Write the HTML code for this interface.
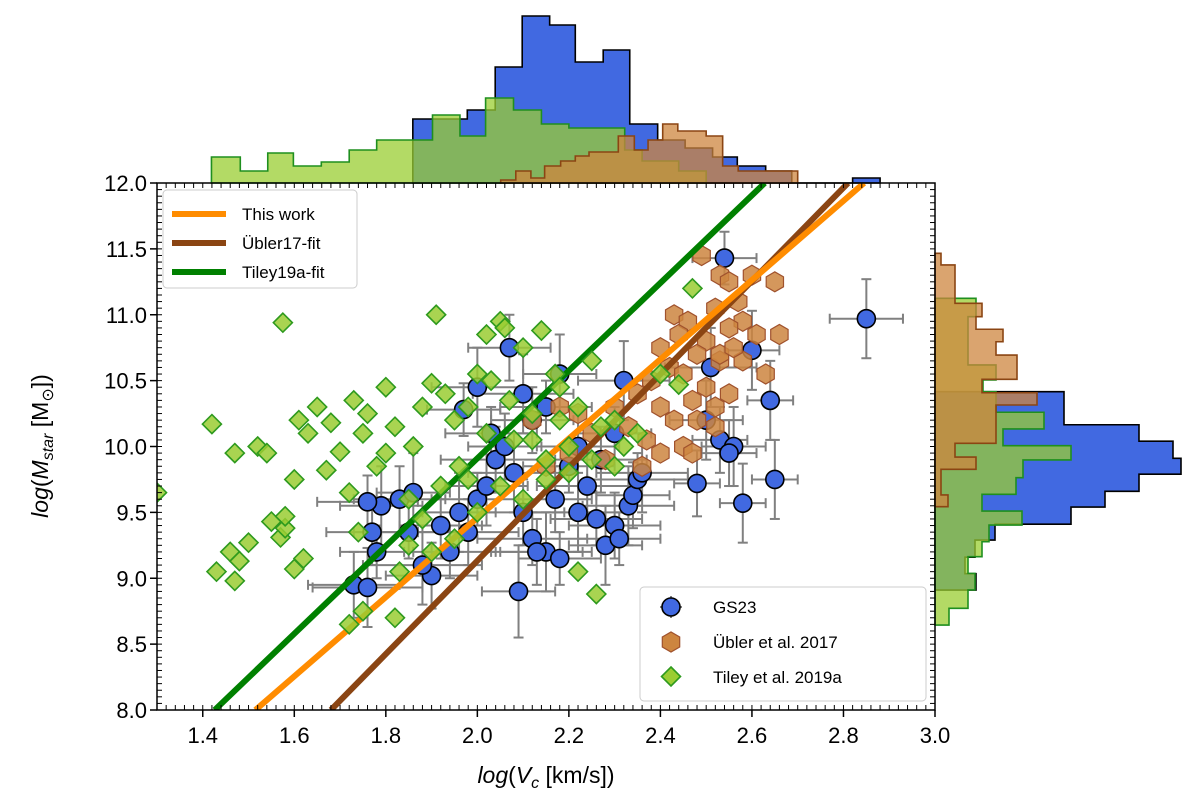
<!DOCTYPE html>
<html><head><meta charset="utf-8"><style>
html,body{margin:0;padding:0;background:#fff;}
svg{display:block;font-family:"Liberation Sans","DejaVu Sans",sans-serif;}
</style></head><body>
<svg id="chart" width="1200" height="800" viewBox="0 0 1200 800" xmlns="http://www.w3.org/2000/svg">
<defs><clipPath id="plotclip"><rect x="157" y="183" width="778" height="527"/></clipPath></defs>
<rect width="1200" height="800" fill="#fff"/>
<g id="tophist"></g>
<g id="righthist"></g>
<g id="plot" clip-path="url(#plotclip)"></g>
<g id="axes"></g>
<g id="legends"></g>
</svg>
<script>
// ---- data ----
const xTicks = [1.4,1.6,1.8,2.0,2.2,2.4,2.6,2.8,3.0];
const xTickLabels = ["1.4","1.6","1.8","2.0","2.2","2.4","2.6","2.8","3.0"];
const yTicks = [8.0,8.5,9.0,9.5,10.0,10.5,11.0,11.5,12.0];
const yTickLabels = ["8.0","8.5","9.0","9.5","10.0","10.5","11.0","11.5","12.0"];

const blueX = [1.73,1.76,1.78,1.77,1.79,1.76,1.83,1.86,1.85,1.90,1.88,1.92,1.94,1.96,1.98,2.00,2.02,2.04,1.97,2.00,2.07,2.10,2.03,2.06,2.08,2.10,2.12,2.15,2.17,2.20,2.22,2.24,2.26,2.28,2.30,2.31,2.33,2.34,2.35,2.36,2.09,2.13,2.18,2.22,2.27,2.30,2.32,2.12,2.15,2.18,2.48,2.50,2.53,2.56,2.58,2.60,2.64,2.65,2.85,2.54,2.51,2.55];
const blueY = [8.95,8.93,9.2,9.35,9.55,9.58,9.6,9.65,9.35,9.02,9.1,9.4,9.2,9.5,9.35,9.6,9.7,9.9,10.28,10.45,10.75,10.4,10.1,10.0,9.8,9.5,9.3,9.2,9.6,9.85,10.0,9.7,9.45,9.25,9.4,9.3,9.55,9.63,9.75,9.8,8.9,9.2,9.15,9.5,9.9,10.1,10.5,10.2,10.3,10.55,9.72,10.2,10.05,10.0,9.57,10.73,10.35,9.75,10.97,11.43,10.6,9.95];
const blueXErr = [0.1,0.12,0.08,0.1,0.09,0.11,0.1,0.08,0.12,0.1,0.13,0.09,0.1,0.08,0.11,0.1,0.09,0.12,0.08,0.1,0.09,0.11,0.1,0.08,0.1,0.09,0.12,0.1,0.08,0.1,0.09,0.11,0.1,0.08,0.1,0.09,0.1,0.08,0.11,0.1,0.08,0.1,0.09,0.11,0.1,0.08,0.1,0.09,0.1,0.08,0.05,0.08,0.06,0.07,0.05,0.06,0.05,0.05,0.08,0.07,0.1,0.06];
const blueYErr = [0.25,0.3,0.2,0.25,0.3,0.2,0.25,0.3,0.2,0.25,0.3,0.25,0.2,0.3,0.25,0.2,0.3,0.25,0.2,0.3,0.25,0.3,0.2,0.25,0.3,0.25,0.2,0.3,0.25,0.2,0.3,0.25,0.2,0.3,0.25,0.2,0.3,0.25,0.2,0.3,0.35,0.25,0.2,0.3,0.25,0.2,0.3,0.25,0.2,0.3,0.25,0.3,0.25,0.3,0.3,0.3,0.3,0.3,0.3,0.2,0.3,0.25];

const brownX = [2.49,2.53,2.55,2.57,2.43,2.46,2.52,2.58,2.60,2.65,2.66,2.61,2.55,2.50,2.48,2.44,2.40,2.42,2.45,2.50,2.47,2.52,2.55,2.58,2.53,2.38,2.35,2.40,2.43,2.48,2.52,2.30,2.33,2.37,2.45,2.40,2.47,2.36,2.25,2.20,2.28,2.22,2.53,2.56,2.63,2.18,2.12,2.15];
const brownY = [11.45,11.3,11.25,11.1,11.0,10.95,11.05,10.95,11.3,11.25,10.85,10.85,10.9,10.8,10.7,10.85,10.75,10.6,10.55,10.45,10.35,10.3,10.4,10.65,10.65,10.5,10.4,10.3,10.2,10.2,10.15,10.3,10.15,10.05,10.0,9.95,9.95,9.85,10.1,9.95,9.9,10.25,10.7,10.75,10.55,10.3,10.2,9.85];

const greenX = [1.30,1.42,1.575,1.43,1.46,1.47,1.48,1.47,1.50,1.52,1.54,1.55,1.57,1.58,1.58,1.60,1.61,1.63,1.65,1.62,1.60,1.67,1.68,1.70,1.73,1.72,1.75,1.74,1.76,1.78,1.80,1.80,1.82,1.83,1.85,1.86,1.88,1.90,1.91,1.93,1.95,1.96,1.98,2.00,2.02,2.03,2.05,2.06,2.07,2.08,2.10,2.12,2.14,2.15,2.17,2.18,2.20,2.22,2.25,2.27,2.30,2.32,2.35,2.40,2.44,2.47,2.22,2.26,1.75,1.72,1.82,1.90,1.95,2.00,2.05,2.10,2.15,2.20,2.25,2.30,1.98,2.02,1.88,1.92,1.85,2.12,2.18];
const greenY = [9.65,10.17,10.94,9.05,9.2,8.98,9.13,9.95,9.27,10.0,9.95,9.43,9.31,9.38,9.47,9.75,10.2,10.1,10.3,9.15,9.07,9.82,10.18,9.96,10.35,9.65,10.1,9.35,10.25,9.85,10.45,9.95,10.15,9.05,9.6,10.0,10.3,10.48,11.0,10.4,10.2,9.85,10.3,10.55,10.85,10.5,10.95,10.9,10.35,10.05,10.75,10.25,10.88,9.9,10.55,10.45,10.0,10.3,10.65,10.15,10.2,10.0,10.1,10.55,10.47,11.2,9.05,8.88,8.75,8.65,8.7,9.2,9.3,9.5,9.7,9.6,9.75,9.8,9.9,9.85,9.75,10.1,9.45,9.7,9.25,10.05,10.2];

const fitThisWork = [[1.515,8.0],[2.845,12.0]];
const fitUbler = [[1.68,8.0],[2.81,12.0]];
const fitTiley = [[1.426,8.0],[2.628,12.0]];

// top histograms (x bin edges, heights)
const topBlueEdges = [1.859,1.919,1.978,2.039,2.098,2.158,2.214,2.275,2.333,2.394,2.454,2.514,2.568,2.63,2.687,2.75,2.82,2.88];
const topBlueCounts = [64,64,73,116,167,158,121,133,59,43,35,26,17,12,0,0,5];
const topGreenEdges = [1.419,1.482,1.542,1.598,1.659,1.72,1.78,1.82,1.859,1.902,1.962,2.018,2.079,2.14,2.2,2.322,2.36,2.44,2.50];
const topGreenCounts = [26,12,30,17,21,33,43,43,43,68,47,85,73,59,55,33,22,12];
const topBrownEdges = [2.051,2.084,2.117,2.147,2.182,2.214,2.244,2.308,2.343,2.373,2.405,2.438,2.50,2.536,2.57,2.70];
const topBrownCounts = [3,12,5,17,22,27,31,47,33,43,59,52,47,17,12];

// right histograms (y bin edges top->bottom, widths)
const rBlueEdges = [10.416,10.29,10.165,10.04,9.91,9.79,9.66,9.54,9.41,9.29,9.16,9.035,8.91];
const rBlueCounts = [129,129,204,238,246,204,170,136,60,40,30,41];
const rGreenEdges = [11.125,10.985,10.758,10.619,10.505,10.416,10.26,10.133,10.006,9.898,9.763,9.637,9.51,9.404,9.277,9.164,9.037,8.911,8.772,8.645];
const rGreenCounts = [41,33,33,61,48,61,109,68,136,88,81,47,87,54,47,33,40,33,14];
const rBrownEdges = [11.466,11.378,11.087,10.985,10.89,10.795,10.694,10.51,10.408,10.315,10.024,9.92,9.827,9.632,9.543];
const rBrownCounts = [6,20,47,41,68,61,82,47,102,61,20,41,6,13];

// ---- scales ----
const X0=157, X1=935, Y0=710, Y1=183;
const xMin=1.3, xMax=3.0, yMin=8.0, yMax=12.0;
function sx(v){return X0+(v-xMin)/(xMax-xMin)*(X1-X0);}
function sy(v){return Y0-(v-yMin)/(yMax-yMin)*(Y0-Y1);}
const NS="http://www.w3.org/2000/svg";
function mk(tag,attrs,parent){const e=document.createElementNS(NS,tag);for(const k in attrs)e.setAttribute(k,attrs[k]);parent.appendChild(e);return e;}

// ---- top histograms ----
const th=document.getElementById('tophist');
function topHist(edges,counts,fill,stroke,op,name){
  let d=`M${sx(edges[0])},${Y1}`;
  for(let i=0;i<counts.length;i++){d+=` L${sx(edges[i])},${Y1-counts[i]} L${sx(edges[i+1])},${Y1-counts[i]}`;}
  d+=` L${sx(edges[counts.length])},${Y1} Z`;
  const p=mk('path',{d:d,fill:fill,'fill-opacity':op,stroke:stroke,'stroke-width':1.6},th);
  
  
}
topHist(topBlueEdges,topBlueCounts,'#4169E1','#000',1,'top-hist-gs23');
topHist(topGreenEdges,topGreenCounts,'#9ACD32','#1f8f1f',0.75,'top-hist-tiley');
topHist(topBrownEdges,topBrownCounts,'#CD853F','#8B4513',0.75,'top-hist-ubler');

// ---- right histograms ----
const rh=document.getElementById('righthist');
function rightHist(edges,counts,fill,stroke,op,name){
  let d=`M${X1},${sy(edges[0])}`;
  for(let i=0;i<counts.length;i++){d+=` L${X1+counts[i]},${sy(edges[i])} L${X1+counts[i]},${sy(edges[i+1])}`;}
  d+=` L${X1},${sy(edges[counts.length])} Z`;
  const p=mk('path',{d:d,fill:fill,'fill-opacity':op,stroke:stroke,'stroke-width':1.6},rh);
  
  
}
rightHist(rBlueEdges,rBlueCounts,'#4169E1','#000',1,'right-hist-gs23');
rightHist(rGreenEdges,rGreenCounts,'#9ACD32','#1f8f1f',0.75,'right-hist-tiley');
rightHist(rBrownEdges,rBrownCounts,'#CD853F','#8B4513',0.75,'right-hist-ubler');

// ---- scatter ----
const pl=document.getElementById('plot');
const eg=mk('g',{stroke:'#808080','stroke-width':2},pl);


for(let i=0;i<blueX.length;i++){
  const cx=sx(blueX[i]), cy=sy(blueY[i]);
  const xl=sx(blueX[i]-blueXErr[i]), xr=sx(blueX[i]+blueXErr[i]);
  const yt=sy(blueY[i]+blueYErr[i]), yb=sy(blueY[i]-blueYErr[i]);
  mk('line',{x1:xl,y1:cy,x2:xr,y2:cy},eg);
  mk('line',{x1:cx,y1:yt,x2:cx,y2:yb},eg);
  mk('line',{x1:xl,y1:cy-5,x2:xl,y2:cy+5},eg);
  mk('line',{x1:xr,y1:cy-5,x2:xr,y2:cy+5},eg);
  mk('line',{x1:cx-5,y1:yt,x2:cx+5,y2:yt},eg);
  mk('line',{x1:cx-5,y1:yb,x2:cx+5,y2:yb},eg);
}
for(let i=0;i<blueX.length;i++){
  const c=mk('circle',{cx:sx(blueX[i]),cy:sy(blueY[i]),r:9,fill:'#4169E1',stroke:'#000','stroke-width':1.6},pl);
  
  
}
function hexPts(cx,cy,r){let s=[];for(let k=0;k<6;k++){const a=Math.PI/6+k*Math.PI/3;s.push((cx+r*Math.cos(a)).toFixed(1)+','+(cy+r*Math.sin(a)).toFixed(1));}return s.join(' ');}
for(let i=0;i<brownX.length;i++){
  const h=mk('polygon',{points:hexPts(sx(brownX[i]),sy(brownY[i]),10),fill:'#CD853F','fill-opacity':0.85,stroke:'#A0522D','stroke-width':1.2},pl);
  
  
}
function fitLine(pts,color,name){
  const l=mk('line',{x1:sx(pts[0][0]),y1:sy(pts[0][1]),x2:sx(pts[1][0]),y2:sy(pts[1][1]),stroke:color,'stroke-width':6},pl);
  
  
}
fitLine(fitUbler,'#8B4513','ubler17-fit-line');
fitLine(fitThisWork,'#FF8C00','this-work-fit-line');
fitLine(fitTiley,'#008000','tiley19a-fit-line');
function diamond(cx,cy,r){return `${cx},${cy-r} ${cx+r},${cy} ${cx},${cy+r} ${cx-r},${cy}`;}
for(let i=0;i<greenX.length;i++){
  const g=mk('polygon',{points:diamond(sx(greenX[i]),sy(greenY[i]),9.5),fill:'#9ACD32','fill-opacity':0.85,stroke:'#2e9a1e','stroke-width':1.6},pl);
  
  
}

// ---- axes ----
const ax=document.getElementById('axes');
mk('rect',{x:X0,y:Y1,width:X1-X0,height:Y0-Y1,fill:'none',stroke:'#000','stroke-width':1.5},ax);
for(let v=1.3;v<=3.0001;v+=0.02){
  const x=sx(v); mk('line',{x1:x,y1:Y0,x2:x,y2:Y0-5,stroke:'#000','stroke-width':1},ax);
  mk('line',{x1:x,y1:Y1,x2:x,y2:Y1+5,stroke:'#000','stroke-width':1},ax);
}
for(let v=8.0;v<=12.0001;v+=0.05){
  const y=sy(v); mk('line',{x1:X0,y1:y,x2:X0+5,y2:y,stroke:'#000','stroke-width':1},ax);
  mk('line',{x1:X1,y1:y,x2:X1-5,y2:y,stroke:'#000','stroke-width':1},ax);
}
for(let i=0;i<xTicks.length;i++){
  const x=sx(xTicks[i]);
  mk('line',{x1:x,y1:Y0,x2:x,y2:Y0+7,stroke:'#000','stroke-width':1.5},ax);
  const t=mk('text',{x:x,y:Y0+33,'text-anchor':'middle','font-size':22,fill:'#000'},ax);
  t.textContent=xTickLabels[i];
  
  
}
for(let i=0;i<yTicks.length;i++){
  const y=sy(yTicks[i]);
  mk('line',{x1:X0,y1:y,x2:X0-7,y2:y,stroke:'#000','stroke-width':1.5},ax);
  const t=mk('text',{x:X0-10,y:y+8,'text-anchor':'end','font-size':22,fill:'#000'},ax);
  t.textContent=yTickLabels[i];
  
  
}
</script>
<svg style="position:absolute;left:0;top:0" width="1200" height="800" xmlns="http://www.w3.org/2000/svg">
<text x="546" y="783" text-anchor="middle" font-size="23" font-family="Liberation Sans, sans-serif"><tspan font-style="italic">log</tspan>(<tspan font-style="italic">V</tspan><tspan font-size="16" dy="5" font-style="italic">c</tspan><tspan dy="-5"> [km/s])</tspan></text>
<text transform="translate(48,446) rotate(-90)" text-anchor="middle" font-size="23" font-family="Liberation Sans, sans-serif"><tspan font-style="italic">log</tspan>(<tspan font-style="italic">M</tspan><tspan font-size="16" dy="5" font-style="italic">star</tspan><tspan dy="-5"> [M</tspan><tspan font-size="16" dy="5">⊙</tspan><tspan dy="-5">])</tspan></text>
<g font-family="Liberation Sans, sans-serif" font-size="17">
<rect x="163" y="190" width="194" height="98" rx="4" fill="#fff" fill-opacity="0.85" stroke="#ccc"/>
<line x1="172" y1="214" x2="226" y2="214" stroke="#FF8C00" stroke-width="6"/>
<text x="242" y="220">This work</text>
<line x1="172" y1="243" x2="226" y2="243" stroke="#8B4513" stroke-width="6"/>
<text x="242" y="249">Übler17-fit</text>
<line x1="172" y1="272" x2="226" y2="272" stroke="#008000" stroke-width="6"/>
<text x="242" y="278">Tiley19a-fit</text>
</g>
<g font-family="Liberation Sans, sans-serif" font-size="17">
<rect x="640" y="587" width="286" height="114" rx="4" fill="#fff" fill-opacity="0.85" stroke="#ccc"/>
<line x1="660" y1="607" x2="682" y2="607" stroke="#808080" stroke-width="2"/>
<line x1="671" y1="596" x2="671" y2="618" stroke="#808080" stroke-width="2"/>
<circle cx="671" cy="607" r="9" fill="#4169E1" stroke="#000" stroke-width="1.6"/>
<text x="713" y="613">GS23</text>
<polygon points="679.7,647 671,652 662.3,647 662.3,637 671,632 679.7,637" fill="#CD853F" stroke="#A0522D" stroke-width="1.2"/>
<text x="713" y="648">Übler et al. 2017</text>
<polygon points="671,667 680.5,676.5 671,686 661.5,676.5" fill="#9ACD32" stroke="#2e9a1e" stroke-width="1.6"/>
<text x="713" y="683">Tiley et al. 2019a</text>
</g>
</svg>
</body></html>
